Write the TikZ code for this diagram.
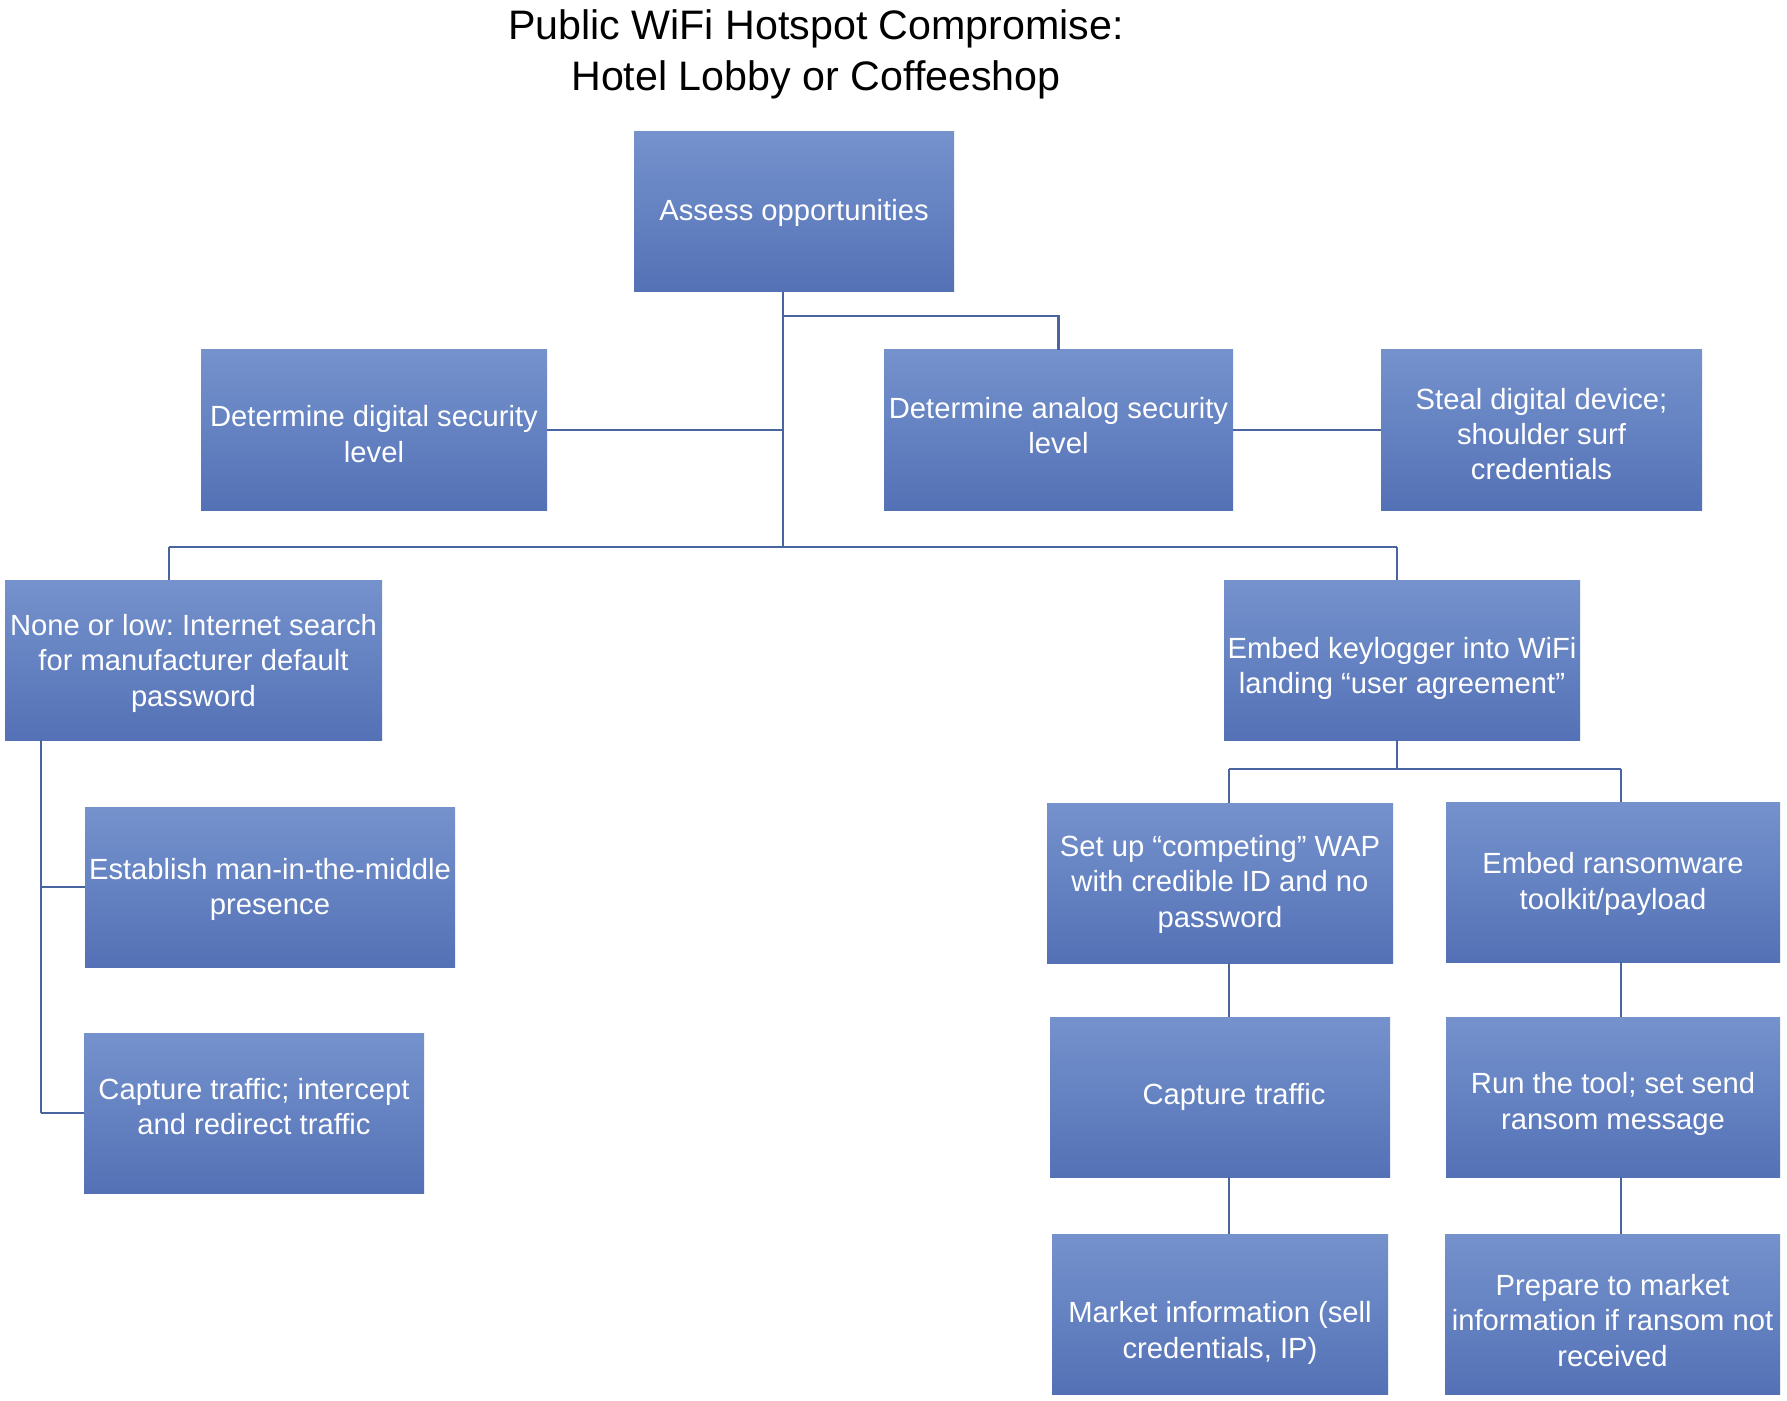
\documentclass[tikz,border=0pt]{standalone}
\usepackage{fontspec}
\setmainfont{Liberation Sans}
\frenchspacing
\definecolor{boxtop}{RGB}{117,146,205}
\definecolor{boxbot}{RGB}{84,113,182}
\definecolor{linec}{RGB}{74,100,160}
\newcommand\mybox[6]{%
  \node[box, minimum width=#4] (#1) at (#2,#3) {};
  \node[boxtext] (#1-t) at ([yshift=#5]#1.center) {#6};}
\begin{document}
\begin{tikzpicture}[x=0.5pt,y=-0.5pt,
  box/.style={rectangle, top color=boxtop, bottom color=boxbot, draw=none,
    minimum height=80pt, inner sep=0pt},
  boxtext/.style={text=white, align=center, inner sep=0pt,
    font=\fontsize{14.6pt}{17.7pt}\selectfont},
  conn/.style={draw=linec, line width=1.4pt}]
\useasboundingbox[fill=white] (0,0) rectangle (1787,1401);
\node[font=\fontsize{20.6pt}{25.5pt}\selectfont, align=center] (title) at (816,54.5)
  {Public WiFi Hotspot Compromise:\\Hotel Lobby or Coffeeshop};
\mybox{assess}{794}{212}{160pt}{-0.6pt}{Assess opportunities}
\mybox{digital}{374}{430}{173pt}{-2pt}{Determine digital security\\level}
\mybox{analog}{1058.5}{430}{174.5pt}{2.3pt}{Determine analog security\\level}
\mybox{steal}{1541.5}{430}{160.5pt}{-2pt}{Steal digital device;\\shoulder surf\\credentials}
\mybox{none}{193.5}{660}{188.5pt}{-1.7pt}{None or low: Internet search\\for manufacturer default\\password}
\mybox{embed}{1402}{660}{178pt}{-4.3pt}{Embed keylogger into WiFi\\landing “user agreement”}
\mybox{mitm}{270}{887}{185pt}{-1.1pt}{Establish man-in-the-middle\\presence}
\mybox{capl}{254}{1113}{170pt}{3.1pt}{Capture traffic; intercept\\and redirect traffic}
\mybox{wap}{1220}{883}{173pt}{-0.6pt}{Set up “competing” WAP\\with credible ID and no\\password}
\mybox{ransom}{1613}{882}{167pt}{-0.9pt}{Embed ransomware\\toolkit/payload}
\mybox{capm}{1220}{1097}{170pt}{0pt}{\hspace*{14pt}Capture traffic}
\mybox{run}{1613}{1097}{167pt}{-3.4pt}{Run the tool; set send\\ransom message}
\mybox{market}{1220}{1314}{168pt}{-9.4pt}{Market information (sell\\credentials, IP)}
\mybox{prepare}{1612.5}{1314}{167.5pt}{-3.1pt}{Prepare to market\\information if ransom not\\received}
% junction coordinates
\coordinate (jt) at (783,547);
\coordinate (ja) at (783,316);
\coordinate (jd) at (783,430);
\coordinate (jl) at (169,547);
\coordinate (jr) at (1397,547);
\coordinate (jn) at (41,740);
\coordinate (jm) at (41,887);
\coordinate (jc) at (41,1113);
\coordinate (je) at (1397,769);
\coordinate (jw) at (1229,769);
\coordinate (jx) at (1621,769);
% connectors
\draw[conn] (assess.south -| jt) -- (jt);
\draw[conn] (ja) -- (ja -| analog.north) -- (analog.north);
\draw[conn] (digital.east) -- (jd);
\draw[conn] (analog.east) -- (steal.west);
\draw[conn] (jl) -- (jr);
\draw[conn] (jl) -- (jl |- none.north);
\draw[conn] (jr) -- (jr |- embed.north);
\draw[conn] (jn) -- (jc);
\draw[conn] (jm) -- (mitm.west);
\draw[conn] (jc) -- (capl.west);
\draw[conn] (embed.south -| je) -- (je);
\draw[conn] (jw) -- (jx);
\draw[conn] (jw) -- (jw |- wap.north);
\draw[conn] (jx) -- (jx |- ransom.north);
\draw[conn] (wap.south -| jw) -- (capm.north -| jw);
\draw[conn] (capm.south -| jw) -- (market.north -| jw);
\draw[conn] (ransom.south -| jx) -- (run.north -| jx);
\draw[conn] (run.south -| jx) -- (prepare.north -| jx);
\end{tikzpicture}
\end{document}
